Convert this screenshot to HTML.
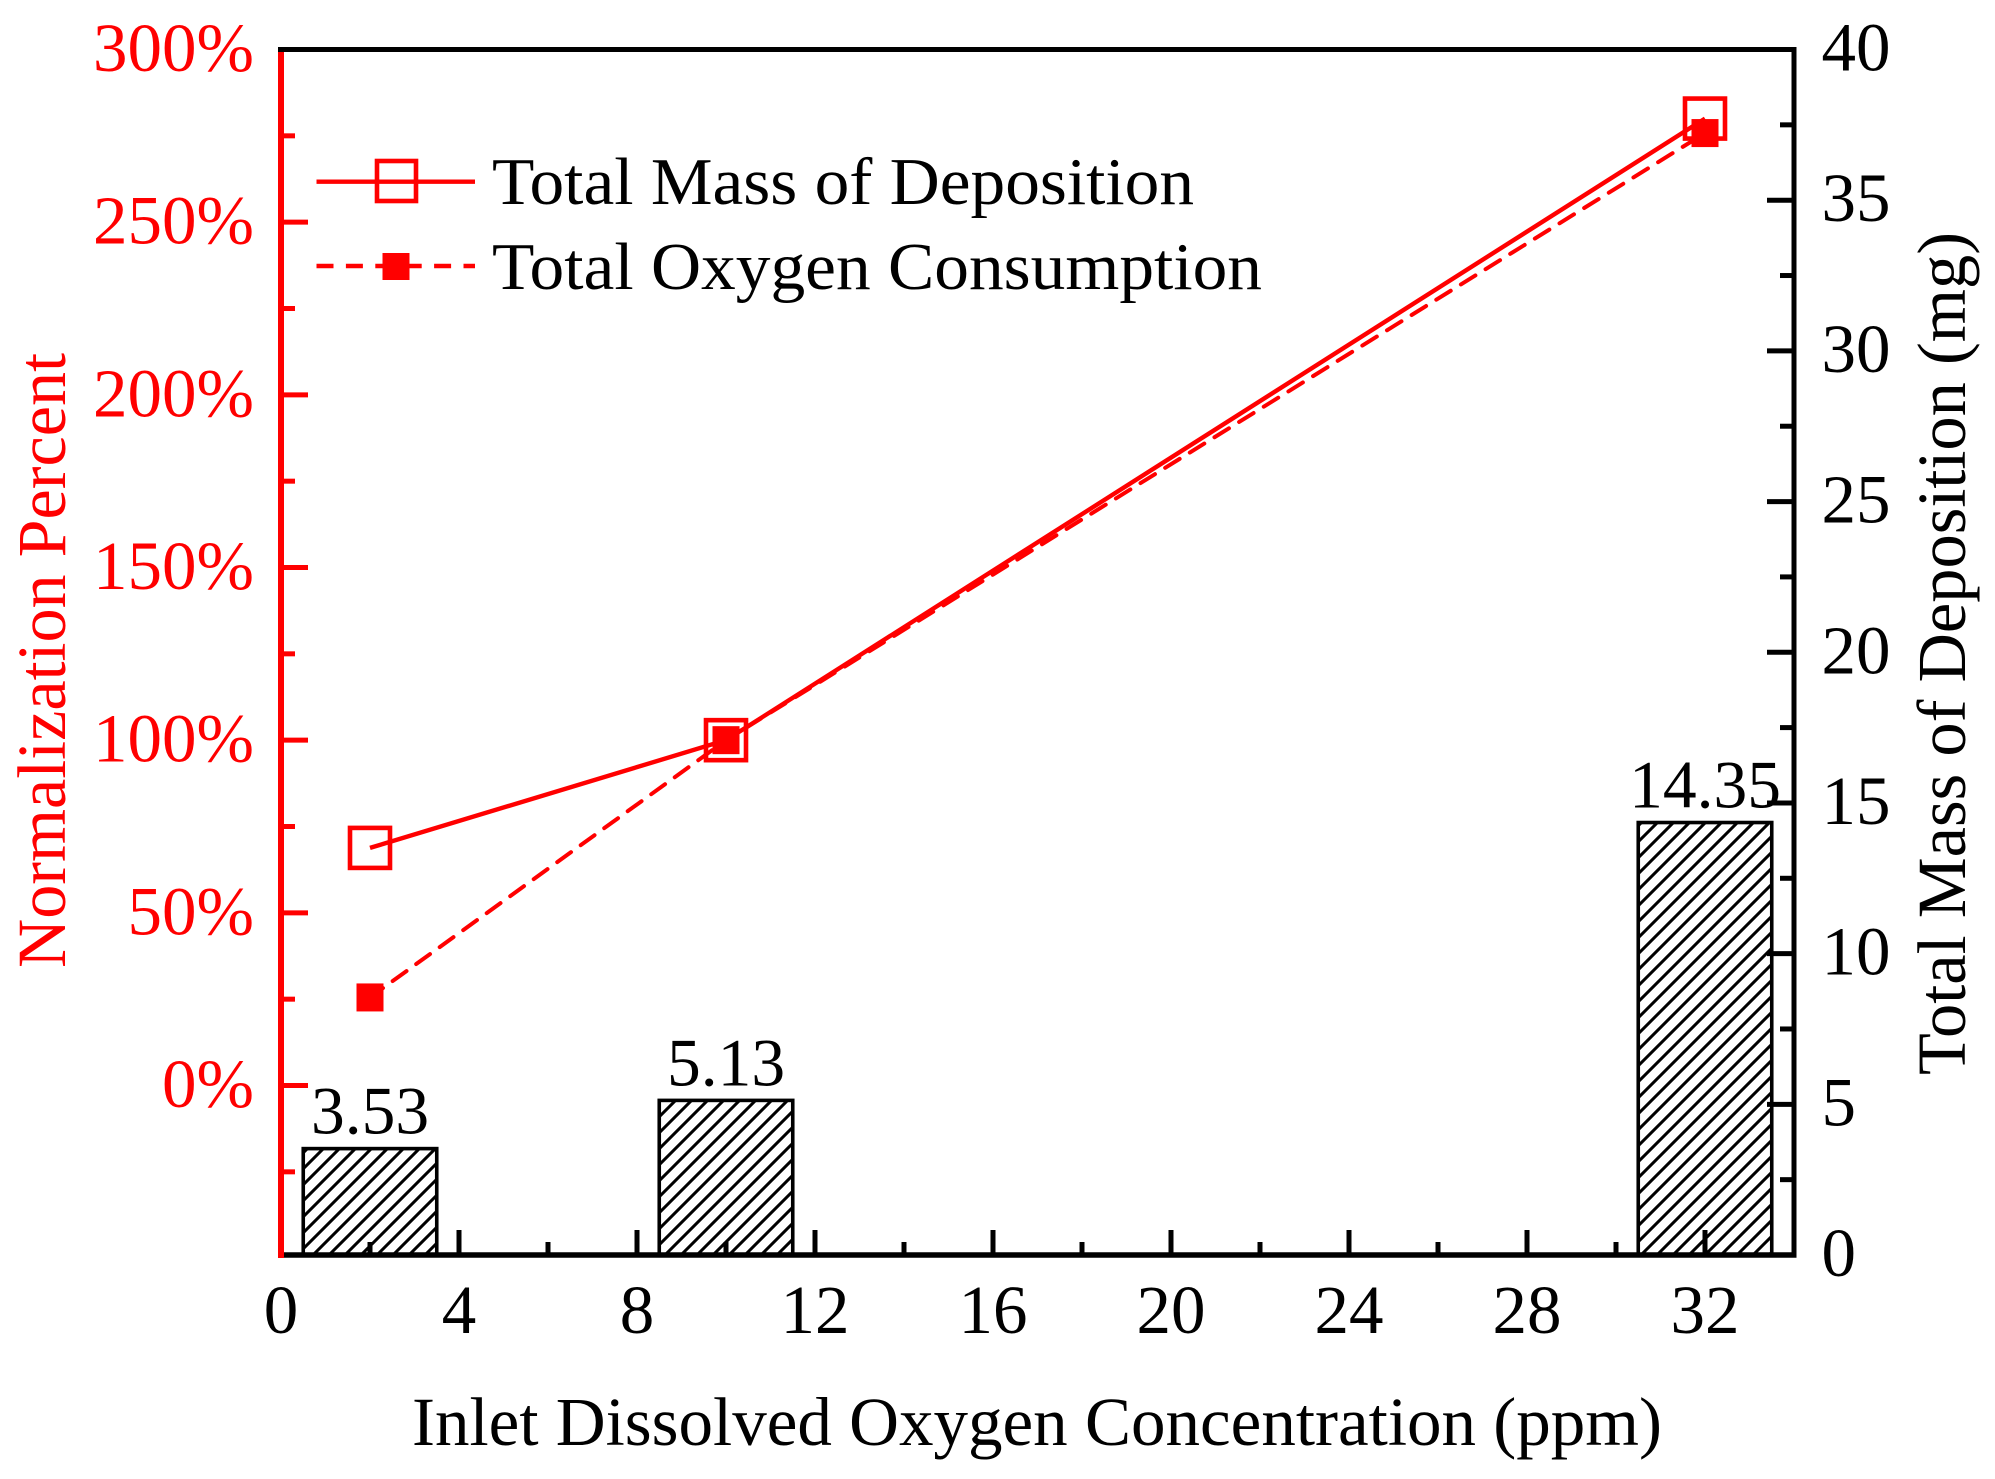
<!DOCTYPE html>
<html lang="en">
<head>
<meta charset="utf-8">
<title>Normalization Percent and Total Mass of Deposition</title>
<style>
html,body{margin:0;padding:0;background:#fff;}
svg{display:block;}
text{font-family:"Liberation Serif","Times New Roman",serif;}
</style>
</head>
<body>
<svg id="chart" xmlns="http://www.w3.org/2000/svg" width="1995" height="1479" viewBox="0 0 1995 1479">
  <defs>
    <pattern id="hatch" patternUnits="userSpaceOnUse" width="16" height="16">
      <path d="M-4 4L4 -4M0 16L16 0M12 20L20 12" stroke="#000" stroke-width="3" fill="none"/>
    </pattern>
  </defs>
  <rect x="0" y="0" width="1995" height="1479" fill="#fff"/>
  <g id="bars"></g>
  <g id="series"></g>
  <g id="axes"></g>
  <g id="legend">
    <line x1="316.5" y1="181.7" x2="475" y2="181.7" stroke="#f00" stroke-width="4.4"/>
    <rect x="377" y="161" width="39" height="40" fill="none" stroke="#f00" stroke-width="4.6"/>
    <line x1="316.5" y1="266" x2="475" y2="266" stroke="#f00" stroke-width="4.4" stroke-dasharray="17 12.4"/>
    <rect x="382.5" y="253" width="27" height="27" fill="#f00"/>
    <text x="492" y="204" font-size="67" textLength="702" lengthAdjust="spacingAndGlyphs">Total Mass of Deposition</text>
    <text x="492" y="289" font-size="67" textLength="770" lengthAdjust="spacingAndGlyphs">Total Oxygen Consumption</text>
  </g>
  <text x="412" y="1445" font-size="69" textLength="1250" lengthAdjust="spacingAndGlyphs">Inlet Dissolved Oxygen Concentration (ppm)</text>
  <text transform="translate(65,968) rotate(-90)" font-size="69" fill="#f00" textLength="615" lengthAdjust="spacingAndGlyphs">Normalization Percent</text>
  <text transform="translate(1965,1075) rotate(-90)" font-size="69" textLength="843" lengthAdjust="spacingAndGlyphs">Total Mass of Deposition (mg)</text>
</svg>
<script>
// Data
const xCategories = [2, 10, 32];
const massPercent = [68.8, 100, 280];
const oxygenPercent = [25.5, 100, 275.8];
const massMg = [3.53, 5.13, 14.35];
const barLabels = ["3.53", "5.13", "14.35"];
const xTickValues = [0, 4, 8, 12, 16, 20, 24, 28, 32];
const xMinorTickValues = [2, 6, 10, 14, 18, 22, 26, 30];
const leftTickValues = [0, 50, 100, 150, 200, 250, 300];
const leftTickLabels = ["0%", "50%", "100%", "150%", "200%", "250%", "300%"];
const leftMinorTickValues = [-25, 25, 75, 125, 175, 225, 275];
const rightTickValues = [0, 5, 10, 15, 20, 25, 30, 35, 40];
const rightMinorTickValues = [2.5, 7.5, 12.5, 17.5, 22.5, 27.5, 32.5, 37.5];
const barWidthUnits = 3;

// Axis functions
const plotLeft = 281, plotRight = 1794, plotTop = 49.5, plotBottom = 1255;
const xMax = 34, rightMax = 40;
const leftZeroY = 1085.5, leftPxPerPercent = (leftZeroY - plotTop) / 300;
const xScale = v => plotLeft + (plotRight - plotLeft) * v / xMax;
const leftScale = v => leftZeroY - v * leftPxPerPercent;
const rightScale = v => plotBottom - (plotBottom - plotTop) * v / rightMax;

const NS = "http://www.w3.org/2000/svg";
function make(tag, parent, props) {
  const el = document.createElementNS(NS, tag);
  for (const k in props) el.setAttribute(k, props[k]);
  parent.appendChild(el);
  return el;
}

const barsG = document.getElementById("bars");
const seriesG = document.getElementById("series");
const axesG = document.getElementById("axes");

// Bars
xCategories.forEach((c, i) => {
  const x0 = xScale(c - barWidthUnits / 2);
  const x1 = xScale(c + barWidthUnits / 2);
  const y = rightScale(massMg[i]);
  const bar = make("rect", barsG, {x: x0, y: y, width: x1 - x0, height: plotBottom - y, fill: "url(#hatch)", stroke: "#000", "stroke-width": 3.6});
  
  
  const label = make("text", barsG, {x: xScale(c), y: y - 15, "font-size": 67.5, "text-anchor": "middle", fill: "#000"});
  
  
  label.textContent = barLabels[i];
});

// Lines
function pointsOf(values) {
  return values.map((v, i) => xScale(xCategories[i]) + "," + leftScale(v)).join(" ");
}
const massLine = make("polyline", seriesG, {points: pointsOf(massPercent), fill: "none", stroke: "#f00", "stroke-width": 4.4});


const oxygenLine = make("polyline", seriesG, {points: pointsOf(oxygenPercent), fill: "none", stroke: "#f00", "stroke-width": 4, "stroke-dasharray": "17 12", "stroke-dashoffset": 1, "stroke-linecap": "round"});



xCategories.forEach((c, i) => {
  const cx = xScale(c);
  const m = make("rect", seriesG, {x: cx - 20, y: leftScale(massPercent[i]) - 20, width: 40, height: 40, fill: "none", stroke: "#f00", "stroke-width": 4.6});
  
  
  const o = make("rect", seriesG, {x: cx - 13.5, y: leftScale(oxygenPercent[i]) - 14, width: 27, height: 28, fill: "#f00"});
  
  
});

// Right axis line
const rightAxis = make("line", axesG, {x1: plotRight, y1: plotTop, x2: plotRight, y2: plotBottom, stroke: "#000", "stroke-width": 5});


const bottomAxis = make("line", axesG, {x1: plotLeft, y1: plotBottom, x2: plotRight + 2.5, y2: plotBottom, stroke: "#000", "stroke-width": 5.5});



// X ticks
xTickValues.forEach(v => {
  const x = xScale(v);
  const t = make("line", axesG, {x1: x, y1: plotBottom, x2: x, y2: plotBottom - 25, stroke: "#000", "stroke-width": 5});
  
  
  const l = make("text", axesG, {x: x, y: 1333, "font-size": 69, "text-anchor": "middle", fill: "#000"});
  
  
  l.textContent = String(v);
});
xMinorTickValues.forEach(v => {
  const x = xScale(v);
  const t = make("line", axesG, {x1: x, y1: plotBottom, x2: x, y2: plotBottom - 13, stroke: "#000", "stroke-width": 5});
  
  
});

// Left ticks
leftTickValues.forEach((v, i) => {
  const y = leftScale(v);
  const t = make("line", axesG, {x1: plotLeft, y1: y, x2: plotLeft + 27, y2: y, stroke: "#f00", "stroke-width": 5});
  
  
  const l = make("text", axesG, {x: 254, y: y + 21.5, "font-size": 69, "text-anchor": "end", fill: "#f00"});
  
  
  l.textContent = leftTickLabels[i];
});
leftMinorTickValues.forEach(v => {
  const y = leftScale(v);
  const t = make("line", axesG, {x1: plotLeft, y1: y, x2: plotLeft + 14, y2: y, stroke: "#f00", "stroke-width": 5});
  
  
});

// Left axis line, then top line over the corner
const leftAxis = make("line", axesG, {x1: plotLeft, y1: plotTop, x2: plotLeft, y2: plotBottom + 3, stroke: "#f00", "stroke-width": 6});


const topAxis = make("line", axesG, {x1: plotLeft - 3, y1: plotTop, x2: plotRight + 2.5, y2: plotTop, stroke: "#000", "stroke-width": 5});



// Right ticks
rightTickValues.forEach(v => {
  const y = rightScale(v);
  const t = make("line", axesG, {x1: plotRight, y1: y, x2: plotRight - 27, y2: y, stroke: "#000", "stroke-width": 5});
  
  
  const l = make("text", axesG, {x: 1821.5, y: y + 21, "font-size": 69, "text-anchor": "start", fill: "#000"});
  
  
  l.textContent = String(v);
});
rightMinorTickValues.forEach(v => {
  const y = rightScale(v);
  const t = make("line", axesG, {x1: plotRight, y1: y, x2: plotRight - 14, y2: y, stroke: "#000", "stroke-width": 5});
  
  
});
</script>
</body>
</html>
